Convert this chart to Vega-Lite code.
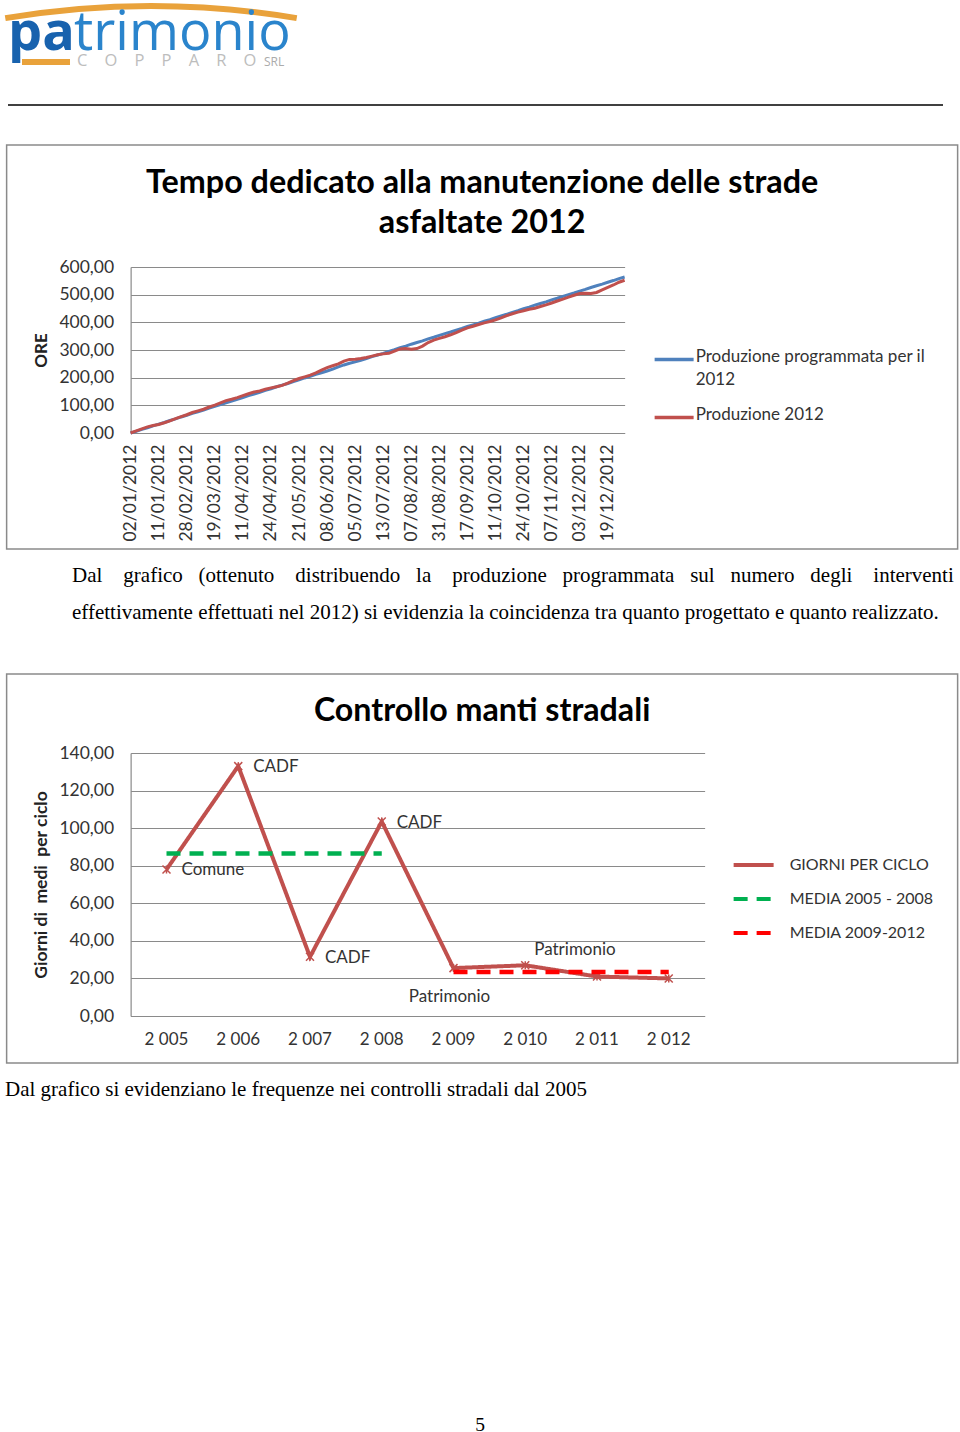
{
  "$schema": "https://vega.github.io/schema/vega-lite/v6.json",
  "padding": 0,
  "spacing": 0,
  "center": true,
  "background": "white",
  "resolve": {"scale": {"color": "independent", "strokeDash": "independent"}, "legend": {"color": "independent", "strokeDash": "independent"}},
  "config": {"view": {"stroke": null}, "font": "Lato"},
  "datasets": {
    "ore": [
      {"n":0,"prog":0,"prod":0},{"n":1,"prog":6,"prod":8},{"n":2,"prog":13,"prod":15},{"n":3,"prog":19,"prod":22},{"n":4,"prog":26,"prod":27},
      {"n":5,"prog":32,"prod":31},{"n":6,"prog":38,"prod":37},{"n":7,"prog":45,"prod":44},{"n":8,"prog":51,"prod":52},{"n":9,"prog":58,"prod":59},
      {"n":10,"prog":64,"prod":66},{"n":11,"prog":71,"prod":74},{"n":12,"prog":77,"prod":80},{"n":13,"prog":83,"prod":86},{"n":14,"prog":90,"prod":94},
      {"n":15,"prog":96,"prod":101},{"n":16,"prog":103,"prod":109},{"n":17,"prog":109,"prod":117},{"n":18,"prog":115,"prod":122},{"n":19,"prog":122,"prod":128},
      {"n":20,"prog":128,"prod":135},{"n":21,"prog":135,"prod":142},{"n":22,"prog":141,"prod":148},{"n":23,"prog":147,"prod":152},{"n":24,"prog":154,"prod":158},
      {"n":25,"prog":160,"prod":163},{"n":26,"prog":167,"prod":167},{"n":27,"prog":173,"prod":172},{"n":28,"prog":179,"prod":180},{"n":29,"prog":186,"prod":189},
      {"n":30,"prog":192,"prod":197},{"n":31,"prog":199,"prod":203},{"n":32,"prog":205,"prod":209},{"n":33,"prog":212,"prod":217},{"n":34,"prog":218,"prod":227},
      {"n":35,"prog":224,"prod":236},{"n":36,"prog":231,"prod":243},{"n":37,"prog":239,"prod":250},{"n":38,"prog":246,"prod":260},{"n":39,"prog":252,"prod":266},
      {"n":40,"prog":257,"prod":267},{"n":41,"prog":263,"prod":269},{"n":42,"prog":269,"prod":273},{"n":43,"prog":276,"prod":278},{"n":44,"prog":282,"prod":283},
      {"n":45,"prog":288,"prod":286},{"n":46,"prog":295,"prod":288},{"n":47,"prog":301,"prod":296},{"n":48,"prog":308,"prod":304},{"n":49,"prog":314,"prod":305},
      {"n":50,"prog":321,"prod":303},{"n":51,"prog":327,"prod":305},{"n":52,"prog":333,"prod":314},{"n":53,"prog":340,"prod":327},{"n":54,"prog":346,"prod":336},
      {"n":55,"prog":353,"prod":342},{"n":56,"prog":359,"prod":348},{"n":57,"prog":365,"prod":355},{"n":58,"prog":372,"prod":363},{"n":59,"prog":378,"prod":372},
      {"n":60,"prog":385,"prod":380},{"n":61,"prog":391,"prod":386},{"n":62,"prog":397,"prod":392},{"n":63,"prog":404,"prod":398},{"n":64,"prog":410,"prod":403},
      {"n":65,"prog":417,"prod":409},{"n":66,"prog":423,"prod":416},{"n":67,"prog":429,"prod":424},{"n":68,"prog":436,"prod":431},{"n":69,"prog":442,"prod":437},
      {"n":70,"prog":449,"prod":442},{"n":71,"prog":455,"prod":447},{"n":72,"prog":462,"prod":451},{"n":73,"prog":468,"prod":457},{"n":74,"prog":474,"prod":463},
      {"n":75,"prog":481,"prod":470},{"n":76,"prog":487,"prod":477},{"n":77,"prog":494,"prod":484},{"n":78,"prog":500,"prod":491},{"n":79,"prog":506,"prod":498},
      {"n":80,"prog":513,"prod":504},{"n":81,"prog":519,"prod":505},{"n":82,"prog":526,"prod":504},{"n":83,"prog":532,"prod":508},{"n":84,"prog":538,"prod":517},
      {"n":85,"prog":545,"prod":526},{"n":86,"prog":551,"prod":535},{"n":87,"prog":558,"prod":545},{"n":88,"prog":564,"prod":552}
    ],
    "giorni": [
      {"anno":2005,"valore":78,"serie":"GIORNI PER CICLO","etichetta":"Comune"},
      {"anno":2006,"valore":133,"serie":"GIORNI PER CICLO","etichetta":"CADF"},
      {"anno":2007,"valore":31.5,"serie":"GIORNI PER CICLO","etichetta":"CADF"},
      {"anno":2008,"valore":103.5,"serie":"GIORNI PER CICLO","etichetta":"CADF"},
      {"anno":2009,"valore":25.5,"serie":"GIORNI PER CICLO","etichetta":"Patrimonio"},
      {"anno":2010,"valore":27,"serie":"GIORNI PER CICLO","etichetta":"Patrimonio"},
      {"anno":2011,"valore":21,"serie":"GIORNI PER CICLO","etichetta":""},
      {"anno":2012,"valore":20,"serie":"GIORNI PER CICLO","etichetta":""}
    ],
    "medie": [
      {"anno":2005,"valore":86.5,"serie":"MEDIA 2005 - 2008"},
      {"anno":2008,"valore":86.5,"serie":"MEDIA 2005 - 2008"},
      {"anno":2009,"valore":23.4,"serie":"MEDIA 2009-2012"},
      {"anno":2012,"valore":23.4,"serie":"MEDIA 2009-2012"}
    ]
  },
  "vconcat": [
    {
      "width": 965, "height": 144,
      "data": {"values": [{}]},
      "layer": [
        {"mark": {"type": "arc", "innerRadius": 879, "outerRadius": 885, "theta": -0.166, "theta2": 0.166, "color": "#E9A23B"}, "encoding": {"x": {"value": 151}, "y": {"value": 888}}},
        {"mark": {"type": "text", "text": "pa", "x": 8, "y": 50, "align": "left", "baseline": "alphabetic", "font": "Open Sans", "fontSize": 54, "fontWeight": "bold", "color": "#1862AE"}},
        {"mark": {"type": "text", "text": "trimonio", "x": 74, "y": 50, "align": "left", "baseline": "alphabetic", "font": "Open Sans", "fontSize": 54, "color": "#2A84CC"}},
        {"mark": {"type": "text", "text": "C\u00a0\u00a0\u00a0\u00a0O\u00a0\u00a0\u00a0\u00a0P\u00a0\u00a0\u00a0\u00a0P\u00a0\u00a0\u00a0\u00a0A\u00a0\u00a0\u00a0\u00a0R\u00a0\u00a0\u00a0\u00a0O", "x": 77, "y": 66, "align": "left", "baseline": "alphabetic", "font": "Open Sans", "fontSize": 16.5, "color": "#BDBDBD"}},
        {"mark": {"type": "text", "text": "SRL", "x": 264, "y": 65.5, "align": "left", "baseline": "alphabetic", "font": "Open Sans", "fontSize": 12, "color": "#ABABAB"}},
        {"mark": {"type": "rule", "color": "#E9A23B", "strokeWidth": 6}, "encoding": {"x": {"value": 22}, "x2": {"value": 70}, "y": {"value": 62}}},
        {"mark": {"type": "rule", "color": "#000000", "strokeWidth": 1.3}, "encoding": {"x": {"value": 8}, "x2": {"value": 943}, "y": {"value": 105}}}
      ]
    },
    {
      "width": 951, "height": 404,
      "view": {"stroke": "#8A8A8A", "strokeWidth": 1.5, "fill": "white"},
      "title": {"text": ["Tempo dedicato alla manutenzione delle strade", "asfaltate 2012"], "anchor": "middle", "frame": "group", "offset": -94.5, "lineHeight": 40, "font": "Lato", "fontSize": 32.3, "fontWeight": "bold", "color": "#000000"},
      "data": {"name": "ore"},
      "transform": [{"fold": ["prog", "prod"], "as": ["serie", "ore"]}],
      "mark": {"type": "line", "strokeWidth": 3},
      "encoding": {
        "x": {"field": "n", "type": "quantitative",
          "scale": {"domain": [0, 88], "range": [124, 618], "nice": false, "zero": false},
          "axis": {"values": [0,5,10,15,20,25,30,35,40,45,50,55,60,65,70,75,80,85],
            "labelExpr": "['02/01/2012','11/01/2012','28/02/2012','19/03/2012','11/04/2012','24/04/2012','21/05/2012','08/06/2012','05/07/2012','13/07/2012','07/08/2012','31/08/2012','17/09/2012','11/10/2012','24/10/2012','07/11/2012','03/12/2012','19/12/2012'][datum.value/5]",
            "labelAngle": -90, "labelFontSize": 17.5, "labelColor": "#333333", "labelPadding": 11, "labelFlush": false, "labelOverlap": false, "labelBound": false,
            "ticks": false, "grid": false, "domainColor": "#8A8A8A", "domainWidth": 1.2, "title": null, "offset": -116}},
        "y": {"field": "ore", "type": "quantitative",
          "scale": {"domain": [0, 600], "range": [288, 122], "nice": false},
          "axis": {"values": [0,100,200,300,400,500,600],
            "labelExpr": "replace(format(datum.value, '.2f'), '.', ',')",
            "labelFontSize": 17.5, "labelColor": "#333333", "labelPadding": 17, "ticks": false,
            "grid": true, "gridColor": "#8A8A8A", "gridWidth": 1, "domainColor": "#8A8A8A", "domainWidth": 1.2,
            "offset": -124, "title": "ORE", "titleFontSize": 17, "titleFontWeight": "bold", "titleColor": "#222222", "titlePadding": 8}},
        "color": {"field": "serie", "type": "nominal",
          "scale": {"domain": ["prog", "prod"], "range": ["#4F81BD", "#C0504D"]},
          "legend": {"title": null, "orient": "none", "legendX": 656, "legendY": 203, "padding": 0,
            "symbolType": "M-2,0H2", "symbolSize": 380, "symbolStrokeWidth": 3.5,
            "labelFontSize": 17, "labelColor": "#333333", "labelOffset": 10, "labelLimit": 400, "rowPadding": 18, "labelBaseline": "top",
            "labelExpr": "datum.value == 'prog' ? ['Produzione programmata per il', '2012'] : 'Produzione 2012'",
            "encode": {"labels": {"update": {"dy": {"value": -10.5}, "lineHeight": {"value": 23}}}}}}
      }
    },
    {
      "width": 965, "height": 123,
      "data": {"values": [{}]},
      "layer": [
        {"mark": {"type": "text", "text": "Dal\u00a0\u00a0\u00a0 grafico\u00a0\u00a0 (ottenuto\u00a0\u00a0\u00a0 distribuendo\u00a0\u00a0 la\u00a0\u00a0\u00a0 produzione\u00a0\u00a0 programmata\u00a0\u00a0 sul\u00a0\u00a0 numero\u00a0\u00a0 degli\u00a0\u00a0\u00a0 interventi", "x": 72, "y": 26, "align": "left", "baseline": "middle", "font": "Liberation Serif", "fontSize": 21, "color": "#000000"}},
        {"mark": {"type": "text", "text": "effettivamente effettuati nel 2012) si evidenzia la coincidenza tra quanto progettato e quanto realizzato.", "x": 72, "y": 63, "align": "left", "baseline": "middle", "font": "Liberation Serif", "fontSize": 21, "color": "#000000"}}
      ]
    },
    {
      "width": 951, "height": 389,
      "view": {"stroke": "#8A8A8A", "strokeWidth": 1.5, "fill": "white"},
      "title": {"text": "Controllo manti stradali", "anchor": "middle", "frame": "group", "offset": -54.5, "font": "Lato", "fontSize": 32.2, "fontWeight": "bold", "color": "#000000"},
      "encoding": {
        "x": {"field": "anno", "type": "ordinal",
          "scale": {"type": "band", "range": [124, 698], "paddingInner": 0, "paddingOuter": 0},
          "axis": {"labelExpr": "slice(datum.label, 0, 1) + ' ' + slice(datum.label, 1)", "labelAngle": 0,
            "labelFontSize": 17, "labelColor": "#333333", "labelPadding": 15, "ticks": false, "grid": false,
            "domainColor": "#8A8A8A", "domainWidth": 1.2, "title": null, "offset": -47}},
        "y": {"field": "valore", "type": "quantitative",
          "scale": {"domain": [0, 140], "range": [342, 79], "nice": false},
          "axis": {"values": [0,20,40,60,80,100,120,140],
            "labelExpr": "replace(format(datum.value, '.2f'), '.', ',')",
            "labelFontSize": 17.5, "labelColor": "#333333", "labelPadding": 17, "ticks": false,
            "grid": true, "gridColor": "#8A8A8A", "gridWidth": 1, "domainColor": "#8A8A8A", "domainWidth": 1.2,
            "offset": -124, "title": "Giorni di\u00a0 medi\u00a0 per ciclo", "titleFontSize": 17.5, "titleFontWeight": "bold", "titleColor": "#222222", "titlePadding": 8}}
      },
      "layer": [
        {"data": {"name": "giorni"}, "mark": {"type": "line", "strokeWidth": 4},
          "encoding": {
            "color": {"field": "serie", "type": "nominal",
              "scale": {"domain": ["GIORNI PER CICLO", "MEDIA 2005 - 2008", "MEDIA 2009-2012"], "range": ["#C0504D", "#00B050", "#FF0000"]},
              "legend": {"title": null, "orient": "none", "legendX": 735, "legendY": 179, "padding": 0,
                "symbolType": "M-2,0H2", "symbolSize": 400, "symbolStrokeWidth": 4,
                "labelFontSize": 16, "labelColor": "#333333", "labelOffset": 24, "labelLimit": 300, "rowPadding": 14}},
            "strokeDash": {"field": "serie", "type": "nominal",
              "scale": {"domain": ["GIORNI PER CICLO", "MEDIA 2005 - 2008", "MEDIA 2009-2012"], "range": [[1, 0], [14, 9], [14, 9]]},
              "legend": {"title": null, "orient": "none", "legendX": 735, "legendY": 179, "padding": 0,
                "symbolType": "M-2,0H2", "symbolSize": 400, "symbolStrokeWidth": 4,
                "labelFontSize": 16, "labelColor": "#333333", "labelOffset": 24, "labelLimit": 300, "rowPadding": 14}}
          }},
        {"data": {"name": "giorni"}, "mark": {"type": "point", "shape": "M-1,-1L1,1M-1,1L1,-1M0,-1L0,1", "size": 64, "filled": false, "color": "#C0504D", "strokeWidth": 1.5, "opacity": 1}},
        {"data": {"name": "medie"}, "mark": {"type": "line", "strokeWidth": 4.5},
          "encoding": {
            "color": {"field": "serie", "type": "nominal"},
            "strokeDash": {"field": "serie", "type": "nominal"}
          }},
        {"data": {"name": "giorni"}, "transform": [{"filter": "datum.anno <= 2008"}],
          "mark": {"type": "text", "align": "left", "baseline": "middle", "dx": 15, "dy": 1, "fontSize": 17, "color": "#333333"},
          "encoding": {"text": {"field": "etichetta"}}},
        {"data": {"name": "giorni"}, "transform": [{"filter": "datum.anno == 2009"}],
          "mark": {"type": "text", "align": "center", "baseline": "middle", "dx": -4, "dy": 29, "fontSize": 17, "color": "#333333"},
          "encoding": {"text": {"field": "etichetta"}}},
        {"data": {"name": "giorni"}, "transform": [{"filter": "datum.anno == 2010"}],
          "mark": {"type": "text", "align": "left", "baseline": "middle", "dx": 9, "dy": -15, "fontSize": 17, "color": "#333333"},
          "encoding": {"text": {"field": "etichetta"}}}
      ]
    },
    {
      "width": 965, "height": 369,
      "data": {"values": [{}]},
      "layer": [
        {"mark": {"type": "text", "text": "Dal grafico si evidenziano le frequenze nei controlli stradali dal 2005", "x": 5, "y": 26, "align": "left", "baseline": "middle", "font": "Liberation Serif", "fontSize": 21, "color": "#000000"}},
        {"mark": {"type": "text", "text": "5", "x": 480, "y": 361, "align": "center", "baseline": "middle", "font": "Liberation Serif", "fontSize": 19.5, "color": "#000000"}}
      ]
    }
  ]
}
